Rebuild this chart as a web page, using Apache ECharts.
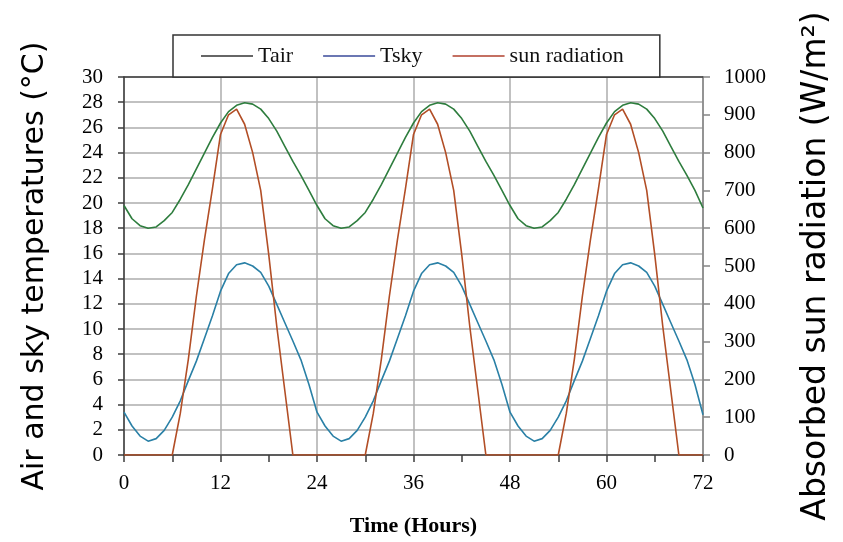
<!DOCTYPE html>
<html>
<head>
<meta charset="utf-8">
<script src="https://cdn.jsdelivr.net/npm/echarts@6/dist/echarts.min.js"></script>
<style>
  html, body { margin: 0; padding: 0; background: #fff; }
  #chart { width: 843px; height: 542px; }
</style>
</head>
<body>
<div id="chart"></div>
<script>
// hours along the x axis
const hours = [
  0, 1, 2, 3, 4, 5, 6, 7, 8, 9, 10, 11, 12, 13, 14, 15, 16, 17, 18, 19, 20, 21, 22, 23,
  24, 25, 26, 27, 28, 29, 30, 31, 32, 33, 34, 35, 36, 37, 38, 39, 40, 41, 42, 43, 44, 45, 46, 47,
  48, 49, 50, 51, 52, 53, 54, 55, 56, 57, 58, 59, 60, 61, 62, 63, 64, 65, 66, 67, 68, 69, 70, 71,
  72
]
// air temperature (°C)
const tair = [
  19.8, 18.75, 18.2, 18.0, 18.1, 18.6, 19.25, 20.3, 21.45, 22.7, 23.95, 25.2, 26.35, 27.25, 27.75, 27.95, 27.85, 27.45, 26.7, 25.7, 24.5, 23.3, 22.2, 21.0,
  19.8, 18.75, 18.2, 18.0, 18.1, 18.6, 19.25, 20.3, 21.45, 22.7, 23.95, 25.2, 26.35, 27.25, 27.75, 27.95, 27.85, 27.45, 26.7, 25.7, 24.5, 23.3, 22.2, 21.0,
  19.8, 18.75, 18.2, 18.0, 18.1, 18.6, 19.25, 20.3, 21.45, 22.7, 23.95, 25.2, 26.35, 27.25, 27.75, 27.95, 27.85, 27.45, 26.7, 25.7, 24.5, 23.3, 22.2, 21.0,
  19.6
]
// sky temperature (°C)
const tsky = [
  3.4, 2.3, 1.5, 1.1, 1.3, 1.95, 3.0, 4.3, 5.9, 7.45, 9.25, 11.05, 13.0, 14.4, 15.1, 15.25, 15.0, 14.5, 13.4, 11.95, 10.5, 9.05, 7.55, 5.6,
  3.4, 2.3, 1.5, 1.1, 1.3, 1.95, 3.0, 4.3, 5.9, 7.45, 9.25, 11.05, 13.0, 14.4, 15.1, 15.25, 15.0, 14.5, 13.4, 11.95, 10.5, 9.05, 7.55, 5.6,
  3.4, 2.3, 1.5, 1.1, 1.3, 1.95, 3.0, 4.3, 5.9, 7.45, 9.25, 11.05, 13.0, 14.4, 15.1, 15.25, 15.0, 14.5, 13.4, 11.95, 10.5, 9.05, 7.55, 5.6,
  3.2
]
// absorbed sun radiation (W/m2)
const sun = [
  0, 0, 0, 0, 0, 0, 0, 110, 253, 420, 569, 705, 848, 900, 915, 875, 800, 700, 530, 340, 170, 0, 0, 0,
  0, 0, 0, 0, 0, 0, 0, 110, 253, 420, 569, 705, 848, 900, 915, 875, 800, 700, 530, 340, 170, 0, 0, 0,
  0, 0, 0, 0, 0, 0, 0, 110, 253, 420, 569, 705, 848, 900, 915, 875, 800, 700, 530, 340, 170, 0, 0, 0,
  0
]

const serif = 'Liberation Serif'
const sans = 'DejaVu Sans'
const gridColor = '#adadad'
const darkAxis = '#3c3c3c'

const pairs = arr => hours.map((h, i) => [h, arr[i]])

const myChart = echarts.init(document.getElementById('chart'), null, { renderer: 'canvas' })

const option = {
  animation: false,
  backgroundColor: '#fff',
  grid: { left: 124, right: 140, top: 77, bottom: 86 },
  legend: {
    left: 173,
    top: 35,
    padding: [10, 36, 10, 28],
    icon: 'rect',
    itemWidth: 52,
    itemHeight: 1.5,
    itemGap: 30,
    backgroundColor: '#fff',
    borderColor: '#333',
    borderWidth: 1.5,
    textStyle: { fontFamily: serif, fontSize: 22, color: '#111' },
    data: [
      { name: 'Tair', itemStyle: { color: '#333333' } },
      { name: 'Tsky', itemStyle: { color: '#3a4a9a' } },
      { name: 'sun radiation', itemStyle: { color: '#b0402e' } }
    ]
  },
  xAxis: [
    {
      type: 'value',
      min: 0,
      max: 72,
      interval: 12,
      name: 'Time (Hours)',
      nameLocation: 'middle',
      nameGap: 60,
      nameTextStyle: { fontFamily: serif, fontSize: 22, fontWeight: 'bold', color: '#000' },
      axisLine: { onZero: false, lineStyle: { color: darkAxis, width: 1.5 } },
      axisTick: { show: true, length: 7, lineStyle: { color: darkAxis, width: 1.5 } },
      minorTick: { show: true, splitNumber: 2, length: 7, lineStyle: { color: darkAxis, width: 1.5 } },
      axisLabel: { margin: 18, fontFamily: serif, fontSize: 21, color: '#000' },
      splitLine: { show: true, lineStyle: { color: gridColor, width: 1.5 } }
    },
    {
      // top border of the plot
      type: 'value',
      position: 'top',
      min: 0,
      max: 72,
      axisLine: { show: true, onZero: false, lineStyle: { color: darkAxis, width: 1.5 } },
      axisTick: { show: false },
      axisLabel: { show: false },
      splitLine: { show: false }
    }
  ],
  yAxis: [
    {
      type: 'value',
      min: 0,
      max: 30,
      interval: 2,
      name: 'Air and sky temperatures (°C)',
      nameLocation: 'middle',
      nameRotate: 90,
      nameGap: 74,
      nameTextStyle: { fontFamily: sans, fontSize: 30, color: '#000' },
      axisLine: { show: true, onZero: false, lineStyle: { color: darkAxis, width: 1.5 } },
      axisTick: { show: true, length: 6, lineStyle: { color: darkAxis, width: 1.5 } },
      axisLabel: { margin: 21, fontFamily: serif, fontSize: 21, color: '#000' },
      splitLine: { show: true, lineStyle: { color: gridColor, width: 1.5 } }
    },
    {
      type: 'value',
      min: 0,
      max: 1000,
      interval: 100,
      position: 'right',
      name: 'Absorbed sun radiation (W/m²)',
      nameLocation: 'middle',
      nameRotate: 90,
      nameGap: 97,
      nameTextStyle: { fontFamily: sans, fontSize: 33, color: '#000' },
      axisLine: { show: true, onZero: false, lineStyle: { color: '#858585', width: 1.5 } },
      axisTick: { show: true, length: 7, lineStyle: { color: '#858585', width: 1.5 } },
      axisLabel: { margin: 21, fontFamily: serif, fontSize: 21, color: '#000', formatter: v => String(v) },
      splitLine: { show: false }
    }
  ],
  series: [
    {
      name: 'Tair',
      type: 'line',
      yAxisIndex: 0,
      symbol: 'none',
      lineStyle: { color: '#2e7d3e', width: 1.6 },
      itemStyle: { color: '#333333' },
      data: pairs(tair)
    },
    {
      name: 'Tsky',
      type: 'line',
      yAxisIndex: 0,
      symbol: 'none',
      lineStyle: { color: '#2a80a6', width: 1.6 },
      itemStyle: { color: '#3a4a9a' },
      data: pairs(tsky)
    },
    {
      name: 'sun radiation',
      type: 'line',
      yAxisIndex: 1,
      symbol: 'none',
      lineStyle: { color: '#b24e26', width: 1.6 },
      itemStyle: { color: '#b0402e' },
      data: pairs(sun)
    }
  ]
}

myChart.setOption(option)
</script>
</body>
</html>
